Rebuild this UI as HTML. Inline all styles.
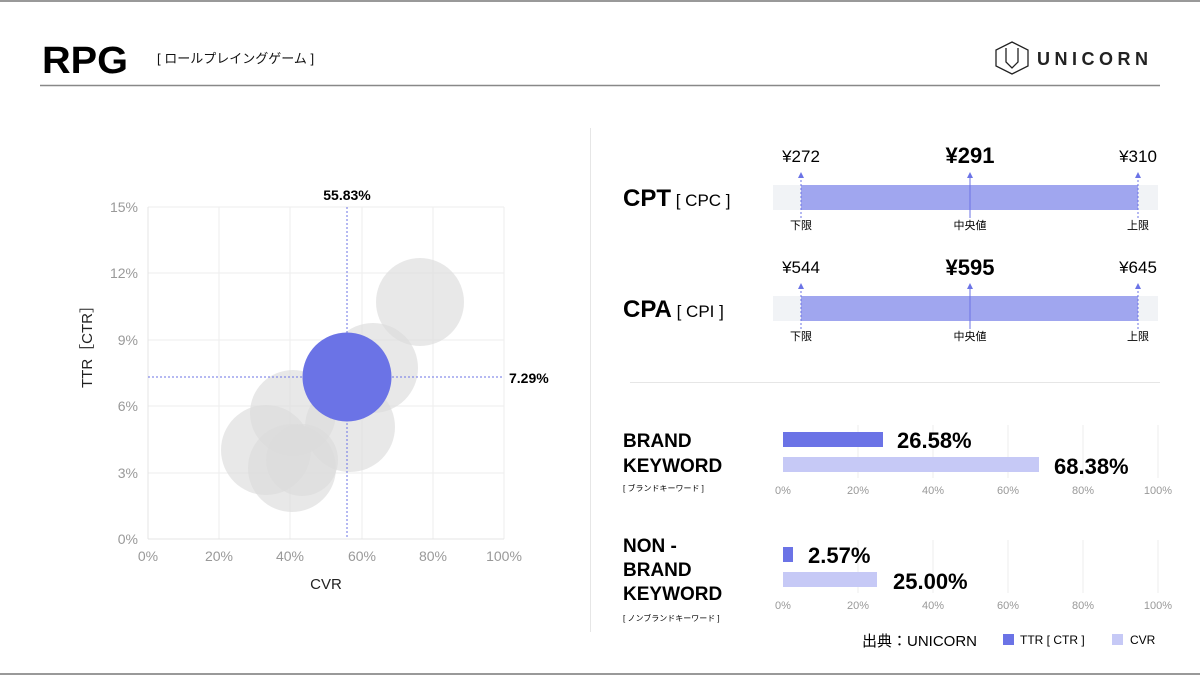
<!DOCTYPE html>
<html><head><meta charset="utf-8"><style>
html,body{margin:0;padding:0;background:#fff;}
svg{display:block;font-family:"Liberation Sans","Noto Sans CJK JP",sans-serif;}
</style></head><body>
<svg width="1200" height="675" viewBox="0 0 1200 675" xmlns="http://www.w3.org/2000/svg">
<rect x="0" y="0" width="1200" height="2" fill="#999"/>
<rect x="0" y="673" width="1200" height="2" fill="#999"/>
<text x="42" y="73" font-size="38" font-weight="bold" fill="#000" textLength="86" lengthAdjust="spacingAndGlyphs">RPG</text>
<text x="157" y="63" font-size="13" fill="#111">[ ロールプレイングゲーム ]</text>
<line x1="40" y1="85.5" x2="1160" y2="85.5" stroke="#888" stroke-width="1.5"/>
<g fill="none" stroke="#222" stroke-width="1.3">
<polygon points="1012,42 1028,50 1028,66 1012,74 996,66 996,50"/>
<path d="M1006,48 L1006,62 L1012,68 L1018,62 L1018,48"/>
</g>
<text x="1037" y="65" font-size="18" font-weight="bold" letter-spacing="4.5" fill="#222">UNICORN</text>

<!-- scatter -->
<g stroke="#eee" stroke-width="1">
<line x1="148" y1="207" x2="504" y2="207"/><line x1="148" y1="273" x2="504" y2="273"/>
<line x1="148" y1="340" x2="504" y2="340"/><line x1="148" y1="406" x2="504" y2="406"/>
<line x1="148" y1="473" x2="504" y2="473"/>
<line x1="219" y1="207" x2="219" y2="539"/><line x1="290" y1="207" x2="290" y2="539"/>
<line x1="362" y1="207" x2="362" y2="539"/><line x1="433" y1="207" x2="433" y2="539"/>
<line x1="504" y1="207" x2="504" y2="539"/>
</g>
<line x1="148" y1="539" x2="504" y2="539" stroke="#e4e4e4"/>
<line x1="148" y1="207" x2="148" y2="539" stroke="#e4e4e4"/>
<g fill="#dcdcdc" fill-opacity="0.65">
<circle cx="420" cy="302" r="44"/>
<circle cx="373" cy="368" r="45"/>
<circle cx="350" cy="427" r="45"/>
<circle cx="293" cy="413" r="43"/>
<circle cx="266" cy="450" r="45"/>
<circle cx="292" cy="468" r="44"/>
<circle cx="302" cy="460" r="36"/>
</g>
<line x1="347" y1="207" x2="347" y2="539" stroke="#6b73e6" stroke-dasharray="2,2"/>
<line x1="148" y1="377" x2="504" y2="377" stroke="#6b73e6" stroke-dasharray="2,2"/>
<circle cx="347" cy="377" r="44.5" fill="#6b73e6"/>
<text x="347" y="200" font-size="14" font-weight="bold" text-anchor="middle">55.83%</text>
<text x="509" y="383" font-size="14" font-weight="bold">7.29%</text>
<g font-size="14" fill="#999" text-anchor="end">
<text x="138" y="212">15%</text><text x="138" y="278">12%</text><text x="138" y="345">9%</text>
<text x="138" y="411">6%</text><text x="138" y="478">3%</text><text x="138" y="544">0%</text>
</g>
<g font-size="14" fill="#999" text-anchor="middle">
<text x="148" y="561">0%</text><text x="219" y="561">20%</text><text x="290" y="561">40%</text>
<text x="362" y="561">60%</text><text x="433" y="561">80%</text><text x="504" y="561">100%</text>
</g>
<text x="326" y="589" font-size="15" text-anchor="middle" fill="#222">CVR</text>
<text transform="translate(92,343) rotate(-90)" font-size="15" text-anchor="middle" fill="#222">TTR［CTR］</text>

<line x1="590.5" y1="128" x2="590.5" y2="632" stroke="#e6e6e6"/>
<line x1="630" y1="382.5" x2="1160" y2="382.5" stroke="#e6e6e6"/>

<!-- CPT -->
<text x="623" y="206" font-size="24" font-weight="bold">CPT<tspan font-weight="normal" font-size="17"> [ CPC ]</tspan></text>
<rect x="773" y="185" width="385" height="25" fill="#f1f3f6"/>
<rect x="801" y="185" width="337" height="25" fill="#a0a6ef"/>
<g stroke="#6b73e6" stroke-width="1"><line x1="801" y1="176" x2="801" y2="218" stroke-dasharray="2,2"/><line x1="970" y1="176" x2="970" y2="218"/><line x1="1138" y1="176" x2="1138" y2="218" stroke-dasharray="2,2"/></g>
<g fill="#6b73e6"><path d="M798,178 L801,172 L804,178Z"/><path d="M967,178 L970,172 L973,178Z"/><path d="M1135,178 L1138,172 L1141,178Z"/></g>
<text x="801" y="162" font-size="17" text-anchor="middle">¥272</text>
<text x="970" y="163" font-size="22" font-weight="bold" text-anchor="middle">¥291</text>
<text x="1138" y="162" font-size="17" text-anchor="middle">¥310</text>
<g font-size="11" text-anchor="middle"><text x="801" y="229">下限</text><text x="970" y="229">中央値</text><text x="1138" y="229">上限</text></g>

<!-- CPA -->
<text x="623" y="317" font-size="24" font-weight="bold">CPA<tspan font-weight="normal" font-size="17"> [ CPI ]</tspan></text>
<rect x="773" y="296" width="385" height="25" fill="#f1f3f6"/>
<rect x="801" y="296" width="337" height="25" fill="#a0a6ef"/>
<g stroke="#6b73e6" stroke-width="1"><line x1="801" y1="287" x2="801" y2="329" stroke-dasharray="2,2"/><line x1="970" y1="287" x2="970" y2="329"/><line x1="1138" y1="287" x2="1138" y2="329" stroke-dasharray="2,2"/></g>
<g fill="#6b73e6"><path d="M798,289 L801,283 L804,289Z"/><path d="M967,289 L970,283 L973,289Z"/><path d="M1135,289 L1138,283 L1141,289Z"/></g>
<text x="801" y="273" font-size="17" text-anchor="middle">¥544</text>
<text x="970" y="275" font-size="22" font-weight="bold" text-anchor="middle">¥595</text>
<text x="1138" y="273" font-size="17" text-anchor="middle">¥645</text>
<g font-size="11" text-anchor="middle"><text x="801" y="340">下限</text><text x="970" y="340">中央値</text><text x="1138" y="340">上限</text></g>

<!-- brand -->
<g stroke="#ececec"><line x1="858" y1="425" x2="858" y2="478"/><line x1="933" y1="425" x2="933" y2="478"/><line x1="1008" y1="425" x2="1008" y2="478"/><line x1="1083" y1="425" x2="1083" y2="478"/><line x1="1158" y1="425" x2="1158" y2="478"/>
<line x1="858" y1="540" x2="858" y2="593"/><line x1="933" y1="540" x2="933" y2="593"/><line x1="1008" y1="540" x2="1008" y2="593"/><line x1="1083" y1="540" x2="1083" y2="593"/><line x1="1158" y1="540" x2="1158" y2="593"/></g>
<g font-size="19" font-weight="bold"><text x="623" y="447">BRAND</text><text x="623" y="472">KEYWORD</text>
<text x="623" y="552">NON -</text><text x="623" y="576">BRAND</text><text x="623" y="600">KEYWORD</text></g>
<text x="623" y="491" font-size="8">[ ブランドキーワード ]</text>
<text x="623" y="621" font-size="8">[ ノンブランドキーワード ]</text>
<rect x="783" y="432" width="100" height="15" fill="#6b73e6"/>
<rect x="783" y="457" width="256" height="15" fill="#c6c9f6"/>
<text x="897" y="448" font-size="22" font-weight="bold">26.58%</text>
<text x="1054" y="474" font-size="22" font-weight="bold">68.38%</text>
<rect x="783" y="547" width="10" height="15" fill="#6b73e6"/>
<rect x="783" y="572" width="94" height="15" fill="#c6c9f6"/>
<text x="808" y="563" font-size="22" font-weight="bold">2.57%</text>
<text x="893" y="589" font-size="22" font-weight="bold">25.00%</text>
<g font-size="11" fill="#999" text-anchor="middle">
<text x="783" y="494">0%</text><text x="858" y="494">20%</text><text x="933" y="494">40%</text><text x="1008" y="494">60%</text><text x="1083" y="494">80%</text><text x="1158" y="494">100%</text>
<text x="783" y="609">0%</text><text x="858" y="609">20%</text><text x="933" y="609">40%</text><text x="1008" y="609">60%</text><text x="1083" y="609">80%</text><text x="1158" y="609">100%</text>
</g>
<text x="862" y="646" font-size="15">出典：UNICORN</text>
<rect x="1003" y="634" width="11" height="11" fill="#6b73e6"/>
<text x="1020" y="644" font-size="12">TTR [ CTR ]</text>
<rect x="1112" y="634" width="11" height="11" fill="#c6c9f6"/>
<text x="1130" y="644" font-size="12">CVR</text>
</svg>
</body></html>
